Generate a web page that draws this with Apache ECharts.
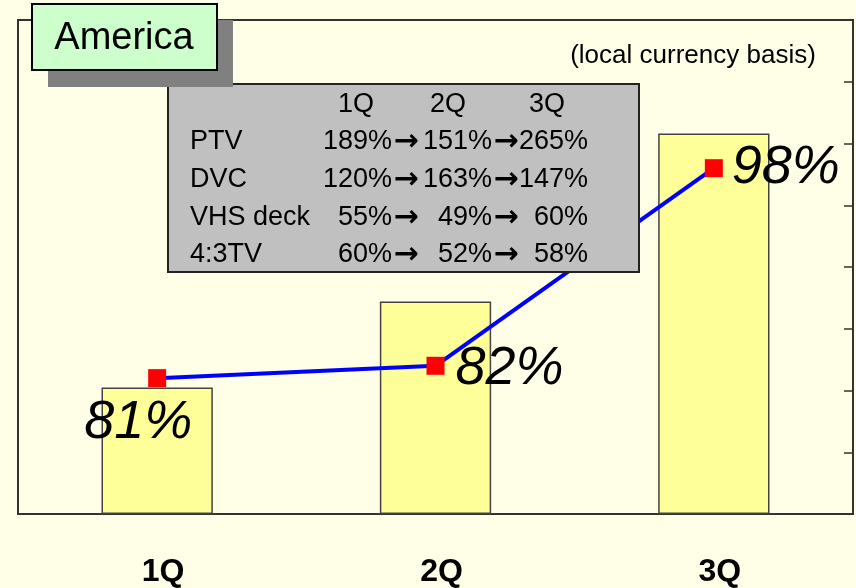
<!DOCTYPE html>
<html>
<head>
<meta charset="utf-8">
<script src="https://cdn.jsdelivr.net/npm/echarts@6/dist/echarts.min.js"></script>
<style>
  html, body { margin: 0; padding: 0; background: #FFFFE8; }
  #chart { width: 856px; height: 588px; }
</style>
</head>
<body>
<div id="chart"></div>
<script>
const quarters = ['1Q', '2Q', '3Q'];
const barValues = [2.05, 3.44, 6.16];
const ratioValues = [81, 82, 98];
const ratioLabels = ['81%', '82%', '98%'];

// table in the grey box
const tableHeader = ['1Q', '2Q', '3Q'];
const tableRows = ['PTV', 'DVC', 'VHS deck', '4:3TV'];
const tableValues = [
  ['189%', '151%', '265%'],
  ['120%', '163%', '147%'],
  ['55%', '49%', '60%'],
  ['60%', '52%', '58%']
];

const labelOffsets = [[-19, 45], [74, 3], [72, 0]];

const chart = echarts.init(document.getElementById('chart'));

const font = 'Liberation Sans, Arial, sans-serif';
const graphics = [];

// table box
graphics.push({
  type: 'rect', z: 100,
  shape: { x: 168, y: 84, width: 471, height: 188 },
  style: { fill: '#C0C0C0', stroke: '#222', lineWidth: 2 }
});
const headerX = [356, 448, 547];
tableHeader.forEach((h, i) => {
  graphics.push({
    type: 'text', z: 101, x: headerX[i], y: 105,
    style: { text: h, font: '27px ' + font, fill: '#000', align: 'center', verticalAlign: 'middle' }
  });
});
const rowY = [142, 180, 218, 255];
const valX = [392, 492, 588];
const arrowX = [406, 506];
tableRows.forEach((r, ri) => {
  graphics.push({
    type: 'text', z: 101, x: 190, y: rowY[ri],
    style: { text: r, font: '27px ' + font, fill: '#000', align: 'left', verticalAlign: 'middle' }
  });
  tableValues[ri].forEach((v, ci) => {
    graphics.push({
      type: 'text', z: 101, x: valX[ci], y: rowY[ri],
      style: { text: v, font: '27px ' + font, fill: '#000', align: 'right', verticalAlign: 'middle' }
    });
  });
  arrowX.forEach(ax => {
    graphics.push({
      type: 'text', z: 101, x: ax, y: rowY[ri],
      style: { text: '→', font: 'bold 30px DejaVu Sans', fill: '#000', align: 'center', verticalAlign: 'middle' }
    });
  });
});

// America title box with shadow
graphics.push({
  type: 'rect', z: 110,
  shape: { x: 48, y: 20, width: 185, height: 67 },
  style: { fill: '#808080' }
});
graphics.push({
  type: 'rect', z: 111,
  shape: { x: 32, y: 4, width: 185, height: 66 },
  style: { fill: '#CCFFCC', stroke: '#000', lineWidth: 2 }
});
graphics.push({
  type: 'text', z: 112, x: 124, y: 39,
  style: { text: 'America', font: '38px ' + font, fill: '#000', align: 'center', verticalAlign: 'middle' }
});
graphics.push({
  type: 'text', z: 100, x: 693, y: 56,
  style: { text: '(local currency basis)', font: '26px ' + font, fill: '#000', align: 'center', verticalAlign: 'middle' }
});

const option = {
  backgroundColor: '#FFFFE8',
  animation: false,
  grid: {
    left: 18, top: 20, right: 3, bottom: 74,
    show: true, borderColor: '#333', borderWidth: 2, backgroundColor: 'transparent'
  },
  xAxis: {
    type: 'category',
    data: quarters,
    boundaryGap: true,
    axisLine: { lineStyle: { color: '#333', width: 2 } },
    axisTick: { inside: true, length: 10, lineStyle: { color: '#333', width: 1.5 } },
    axisLabel: {
      margin: 42, fontSize: 32, fontWeight: 'bold', color: '#000',
      fontFamily: font, padding: [0, 0, 0, 12]
    }
  },
  yAxis: [
    {
      type: 'value', min: 0, max: 8, interval: 1, show: false
    },
    {
      type: 'value', position: 'right', min: 70, max: 110, interval: 5,
      axisLine: { show: true, lineStyle: { color: '#333', width: 2 } },
      axisTick: { show: true, inside: true, length: 9, lineStyle: { color: '#333', width: 1.5 } },
      axisLabel: { show: false },
      splitLine: { show: false }
    }
  ],
  series: [
    {
      type: 'bar',
      data: barValues,
      yAxisIndex: 0,
      barWidth: '40%',
      itemStyle: { color: '#FFFF99', borderColor: '#444', borderWidth: 1.5 }
    },
    {
      type: 'line',
      yAxisIndex: 1,
      data: ratioValues.map((v, i) => ({
        value: v,
        label: {
          show: true, position: 'inside', offset: labelOffsets[i],
          formatter: ratioLabels[i],
          fontSize: 54, fontStyle: 'italic', fontFamily: font, color: '#000'
        }
      })),
      symbol: 'rect',
      symbolSize: 18,
      itemStyle: { color: '#FF0000' },
      lineStyle: { color: '#0000FF', width: 4 },
      z: 5
    }
  ],
  graphic: graphics
};

chart.setOption(option);
</script>
</body>
</html>
